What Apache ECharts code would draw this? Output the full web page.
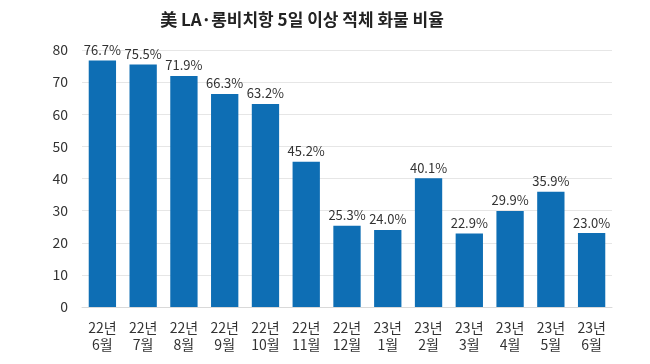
<!DOCTYPE html>
<html><head><meta charset="utf-8">
<script src="https://cdn.jsdelivr.net/npm/echarts@6/dist/echarts.min.js"></script>
<style>html,body{margin:0;padding:0;background:#fff}#c{width:650px;height:364px}</style>
</head><body><div id="c"></div>
<script>
const categories = ['22년\n6월','22년\n7월','22년\n8월','22년\n9월','22년\n10월','22년\n11월','22년\n12월','23년\n1월','23년\n2월','23년\n3월','23년\n4월','23년\n5월','23년\n6월'];
const values = [76.7, 75.5, 71.9, 66.3, 63.2, 45.2, 25.3, 24.0, 40.1, 22.9, 29.9, 35.9, 23.0];
const yTicks = [0, 10, 20, 30, 40, 50, 60, 70, 80];
const titleText = '美 LA·롱비치항 5일 이상 적체 화물 비율';
const font = '"Noto Sans CJK KR", "Noto Sans", sans-serif';
const chart = echarts.init(document.getElementById('c'), null, {renderer:'canvas'});
chart.setOption({
  animation:false,
  title:{text:titleText, left:297, textAlign:'center', top:6, textStyle:{fontFamily:font, fontSize:17, fontWeight:'bold', color:'#222'}},
  grid:{left:82, right:38, top:50, bottom:57, containLabel:false},
  xAxis:{type:'category', data:categories,
    axisLine:{lineStyle:{color:'#d9d9d9'}}, axisTick:{show:false},
    axisLabel:{fontFamily:font, fontSize:14, color:'#333', margin:12, lineHeight:17, interval:0}},
  yAxis:{type:'value', min:yTicks[0], max:yTicks[yTicks.length-1], interval:10,
    axisLine:{show:false}, axisTick:{show:false},
    splitLine:{lineStyle:{color:'#e6e6e6'}},
    axisLabel:{fontFamily:font, fontSize:14, color:'#333', margin:14}},
  series:[{type:'bar', data:values, barWidth:'67%',
    itemStyle:{color:'#0e6eb4'},
    label:{show:true, position:'top', distance:4, fontFamily:font, fontSize:13, color:'#333',
      formatter:p=>p.value.toFixed(1)+'%'}}]
});
</script></body></html>
